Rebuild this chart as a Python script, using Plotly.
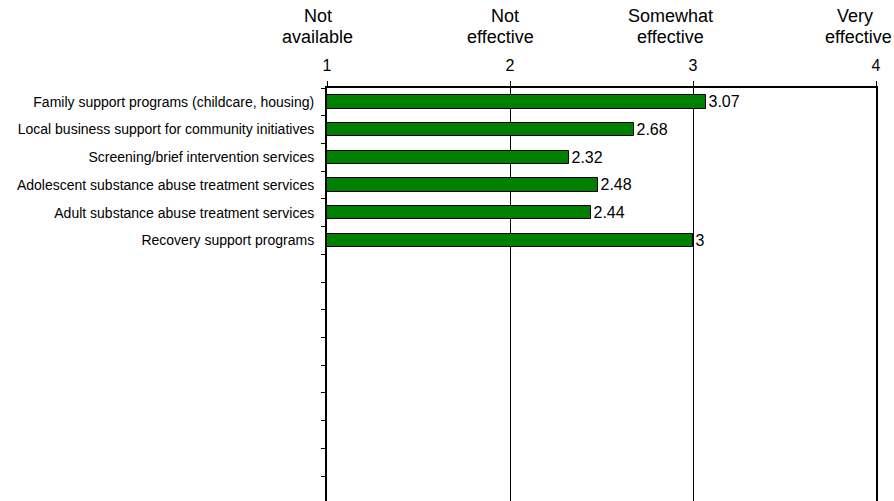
import plotly.graph_objects as go

# ---- data ----
categories = [
    "Family support programs (childcare, housing)",
    "Local business support for community initiatives",
    "Screening/brief intervention services",
    "Adolescent substance abuse treatment services",
    "Adult substance abuse treatment services",
    "Recovery support programs",
]
values = [3.07, 2.68, 2.32, 2.48, 2.44, 3]
value_labels = ["3.07", "2.68", "2.32", "2.48", "2.44", "3"]
scale_ticks = [1, 2, 3, 4]
scale_line1 = ["Not", "Not", "Somewhat", "Very"]
scale_line2 = ["available", "effective", "effective", "effective"]

# ---- layout constants ----
FONT = "Arial, Liberation Sans, sans-serif"
positions = list(range(1, len(categories) + 1))
n_slots_visible = 14.9
y_range = [0.5 + n_slots_visible, 0.5]
boundaries = [k + 0.5 for k in range(0, 17)]
line1_shift = [-9.2, -5.3, -23, -21.5]
line2_shift = [-9.3, -10, -23, -18]

fig = go.Figure()
fig.add_trace(go.Bar(
    x=values, y=positions, orientation="h",
    width=0.48,
    marker=dict(color="#008000", line=dict(color="black", width=1)),
    text=value_labels, textposition="outside", constraintext="none",
    textfont=dict(family=FONT, size=16, color="black"),
    cliponaxis=False, hoverinfo="skip",
))
# dummy trace to activate the tick-mark axis
fig.add_trace(go.Scatter(x=[None], y=[None], yaxis="y2", showlegend=False, hoverinfo="skip"))

annotations = []
for t, l1, l2, s1, s2 in zip(scale_ticks, scale_line1, scale_line2, line1_shift, line2_shift):
    annotations.append(dict(x=t, xref="x", y=1, yref="paper", yanchor="middle", xanchor="center",
                            yshift=72, xshift=s1, text=l1, showarrow=False,
                            font=dict(family=FONT, size=18, color="black")))
    annotations.append(dict(x=t, xref="x", y=1, yref="paper", yanchor="middle", xanchor="center",
                            yshift=51, xshift=s2, text=l2, showarrow=False,
                            font=dict(family=FONT, size=18, color="black")))

fig.update_layout(
    width=894, height=501,
    margin=dict(l=327, r=18, t=88, b=0),
    paper_bgcolor="white", plot_bgcolor="white",
    showlegend=False,
    bargap=0,
    annotations=annotations,
    xaxis=dict(
        side="top", range=[1, 4], tickvals=scale_ticks, ticktext=[str(t) for t in scale_ticks],
        ticks="outside", ticklen=5, tickcolor="black", tickwidth=1,
        tickfont=dict(family=FONT, size=16, color="black"),
        ticklabelstandoff=4,
        showline=True, linecolor="black", linewidth=2,
        showgrid=True, gridcolor="black", gridwidth=1,
        zeroline=False, fixedrange=True,
    ),
    yaxis=dict(
        range=y_range, tickvals=positions, ticktext=categories,
        ticks="", ticklabelstandoff=8,
        tickfont=dict(family=FONT, size=14, color="black"),
        showline=True, linecolor="black", linewidth=2, mirror=True,
        showgrid=False, zeroline=False, fixedrange=True,
    ),
    yaxis2=dict(
        overlaying="y", side="left", range=y_range,
        tickvals=boundaries, ticks="outside", ticklen=5, tickcolor="black", tickwidth=1,
        showticklabels=False, showline=False, showgrid=False, zeroline=False, fixedrange=True,
    ),
)

fig.write_html(
    "out.html",
    config={"displayModeBar": False},
    post_script="document.body.style.margin='0';document.body.style.overflow='hidden';",
)
